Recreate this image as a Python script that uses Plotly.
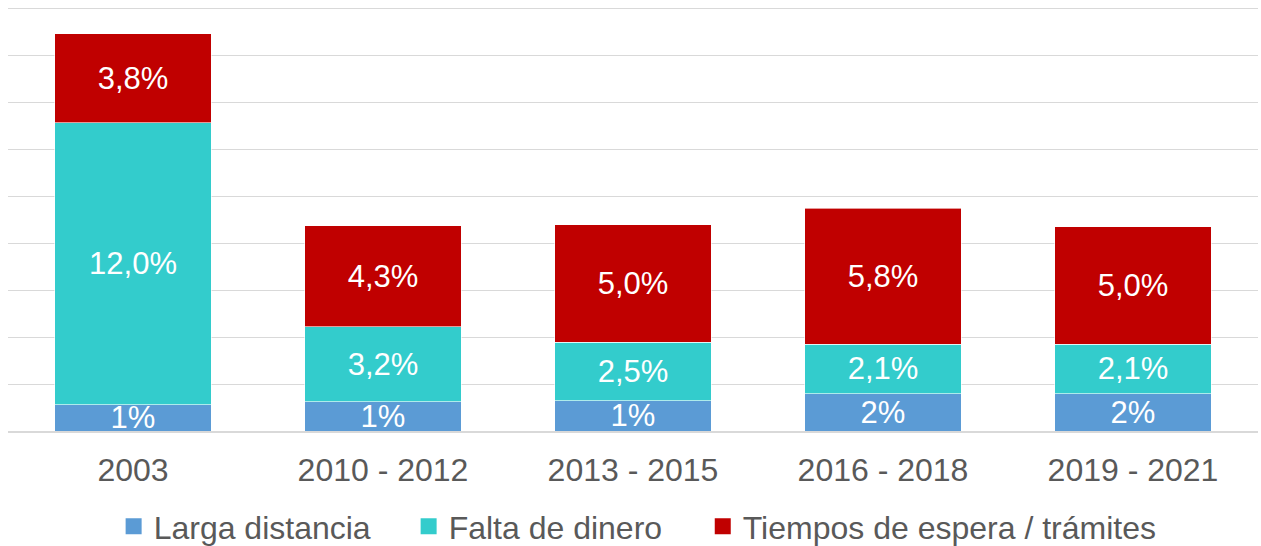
import plotly.graph_objects as go

# Data (% of people)
periods = ["2003", "2010 - 2012", "2013 - 2015", "2016 - 2018", "2019 - 2021"]
larga_distancia = [1.12, 1.24, 1.28, 1.59, 1.59]
falta_dinero = [12.0, 3.2, 2.5, 2.1, 2.1]
tiempos_espera = [3.8, 4.3, 5.0, 5.8, 5.0]

series_names = ["Larga distancia", "Falta de dinero", "Tiempos de espera / trámites"]
colors = ["#5B9BD5", "#33CCCC", "#C00000"]

FONT = "Arial, Liberation Sans, sans-serif"


def pct0(vals):
    return [f"{v:.0f}%" for v in vals]


def pct1(vals):
    return [f"{v:.1f}%".replace(".", ",") for v in vals]


fig = go.Figure()
for name, vals, col, txt in zip(
    series_names,
    [larga_distancia, falta_dinero, tiempos_espera],
    colors,
    [pct0(larga_distancia), pct1(falta_dinero), pct1(tiempos_espera)],
):
    fig.add_trace(
        go.Bar(
            x=periods,
            y=vals,
            name=name,
            marker=dict(color=col, line=dict(color="rgba(255,255,255,0.6)", width=1)),
            text=txt,
            textposition="inside",
            insidetextanchor="middle",
            constraintext="none",
            textfont=dict(color="white", size=31, family=FONT),
            hoverinfo="skip",
            showlegend=False,
        )
    )

# legend entries with bigger square symbols (bar legend squares are fixed at 12px)
# last entry goes in its own legend so its long text isn't clipped by entrywidth
for i, (name, col) in enumerate(zip(series_names, colors)):
    fig.add_trace(
        go.Scatter(
            x=[None],
            y=[None],
            mode="markers",
            name=name,
            marker=dict(symbol="square", size=16, color=col),
            hoverinfo="skip",
            legend="legend2" if i == 2 else "legend",
        )
    )

legend_common = dict(
    orientation="h",
    xanchor="left",
    yanchor="bottom",
    y=-0.29,
    font=dict(size=32, color="#595959", family=FONT),
    itemclick=False,
    traceorder="normal",
    bgcolor="rgba(0,0,0,0)",
)

fig.update_layout(
    barmode="stack",
    bargap=0.374,
    width=1261,
    height=546,
    margin=dict(l=8, r=3, t=7, b=115, autoexpand=False),
    plot_bgcolor="white",
    paper_bgcolor="white",
    font=dict(family=FONT, color="#595959", size=32),
    showlegend=True,
    legend=dict(x=0.0845, entrywidth=250, entrywidthmode="pixels", **legend_common),
    legend2=dict(x=0.5558, **legend_common),
)

fig.update_xaxes(
    showgrid=False,
    showline=True,
    linecolor="#D9D9D9",
    linewidth=2,
    ticks="outside",
    ticklen=10,
    tickcolor="rgba(0,0,0,0)",
    tickfont=dict(size=32, color="#595959", family=FONT),
)
fig.update_yaxes(
    range=[0, 18.05],
    tick0=0,
    dtick=2,
    showgrid=True,
    gridcolor="#D9D9D9",
    gridwidth=1,
    showticklabels=False,
    zeroline=False,
)

# page body has a default 8px margin; drop it so the figure sits at the window corner
fig.write_html(
    "out.html",
    config={"displayModeBar": False},
    post_script="document.body.style.margin='0';",
)
